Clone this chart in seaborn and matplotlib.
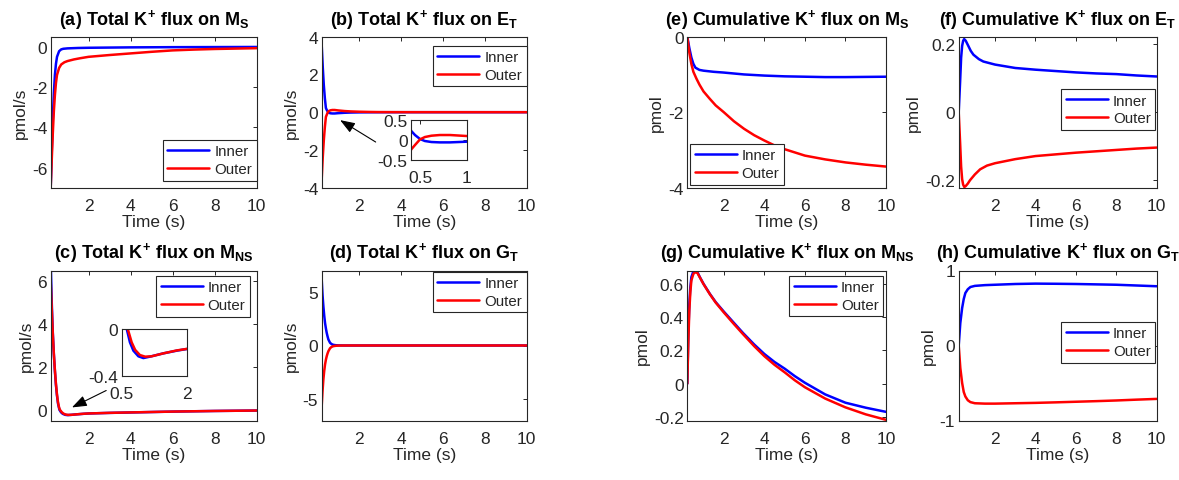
import matplotlib
matplotlib.use("Agg")
import matplotlib.pyplot as plt
import seaborn as sns
import pandas as pd

# ---------------- data ----------------
# (a) total K+ flux on M_S (pmol/s)
a_t_inner = [0.2, 0.25, 0.3, 0.35, 0.4, 0.45, 0.5, 0.6, 0.7, 0.8, 1.0, 1.5, 2, 4, 6, 8, 10]
a_inner = [-7.0, -5.2, -3.6, -2.3, -1.4, -0.85, -0.5, -0.22, -0.13, -0.1, -0.08, -0.06, -0.05, -0.03, -0.02, -0.015, -0.01]
a_t_outer = [0.2, 0.25, 0.3, 0.35, 0.4, 0.45, 0.5, 0.6, 0.7, 0.85, 1.0, 1.3, 1.6, 2, 3, 4, 5, 6, 7, 8, 9, 10]
a_outer = [-7.0, -5.6, -4.3, -3.2, -2.4, -1.8, -1.4, -1.05, -0.88, -0.77, -0.71, -0.63, -0.57, -0.5, -0.41, -0.33, -0.25, -0.18, -0.14, -0.11, -0.09, -0.07]

# (b) total K+ flux on E_T (pmol/s)
b_t = [0.2, 0.25, 0.3, 0.35, 0.4, 0.443, 0.497, 0.55, 0.62, 0.71, 0.82, 1.0, 1.3, 1.6, 2.0, 2.5, 3, 4, 10]
b_inner = [3.55, 2.4, 1.45, 0.75, 0.225, 0.117, 0.017, -0.033, -0.058, -0.067, -0.067, -0.05, -0.03, -0.018, -0.01, -0.005, -0.002, 0, 0]
b_outer = [-3.55, -2.4, -1.5, -0.8, -0.25, -0.133, 0.008, 0.067, 0.1, 0.117, 0.117, 0.092, 0.06, 0.04, 0.025, 0.013, 0.006, 0.002, 0]

# (c) total K+ flux on M_NS (pmol/s)
c_t_inner = [0.2, 0.25, 0.3, 0.35, 0.4, 0.45, 0.5, 0.55, 0.615, 0.69, 0.77, 0.885, 1.0, 1.15, 1.46, 1.77, 2.0, 3, 4, 5, 6, 7, 8, 9, 10]
c_inner = [6.9, 5.0, 3.6, 2.6, 1.8, 1.15, 0.65, 0.28, 0.0, -0.116, -0.187, -0.235, -0.25, -0.238, -0.21, -0.187, -0.173, -0.145, -0.125, -0.105, -0.085, -0.07, -0.055, -0.045, -0.035]
c_t_outer = [0.2, 0.25, 0.3, 0.35, 0.4, 0.45, 0.5, 0.55, 0.6, 0.638, 0.73, 0.81, 0.92, 1.04, 1.19, 1.46, 1.77, 2.0, 3, 4, 5, 6, 7, 8, 9, 10]
c_outer = [6.0, 4.75, 3.55, 2.6, 1.85, 1.2, 0.7, 0.33, 0.1, 0.0, -0.116, -0.18, -0.224, -0.238, -0.235, -0.21, -0.185, -0.172, -0.143, -0.123, -0.103, -0.084, -0.069, -0.055, -0.045, -0.035]

# (d) total K+ flux on G_T (pmol/s)
d_t = [0.2, 0.24, 0.28, 0.32, 0.36, 0.4, 0.44, 0.48, 0.52, 0.6, 0.68, 0.76, 0.88, 1.0, 1.3, 2, 10]
d_inner = [6.15, 4.7, 3.66, 2.8, 2.1, 1.6, 1.18, 0.85, 0.56, 0.25, 0.12, 0.06, 0.025, 0.01, 0.0, 0, 0]
d_outer = [-5.65, -4.25, -3.17, -2.38, -1.77, -1.33, -1.0, -0.74, -0.53, -0.25, -0.12, -0.06, -0.025, -0.01, 0, 0, 0]

# (e) cumulative K+ flux on M_S (pmol)
e_t_inner = [0.2, 0.3, 0.4, 0.5, 0.6, 0.8, 1.0, 1.5, 2, 3, 4, 5, 6, 7, 8, 9, 10]
e_inner = [0.0, -0.3, -0.55, -0.72, -0.82, -0.88, -0.9, -0.93, -0.95, -1.0, -1.03, -1.05, -1.06, -1.07, -1.07, -1.065, -1.06]
e_t_outer = [0.2, 0.3, 0.4, 0.5, 0.65, 0.8, 1.0, 1.3, 1.6, 2, 2.5, 3, 3.5, 4, 4.5, 5, 6, 7, 8, 9, 10]
e_outer = [0.0, -0.42, -0.72, -0.93, -1.11, -1.27, -1.45, -1.64, -1.82, -2.0, -2.24, -2.44, -2.61, -2.75, -2.88, -2.98, -3.15, -3.25, -3.33, -3.39, -3.44]

# (f) cumulative K+ flux on E_T (pmol)
f_t_inner = [0.2, 0.27, 0.32, 0.37, 0.42, 0.47, 0.55, 0.65, 0.8, 0.93, 1.2, 1.42, 2, 3, 4, 5, 6, 7, 8, 9, 10]
f_inner = [0.0, 0.09, 0.16, 0.195, 0.21, 0.215, 0.21, 0.198, 0.18, 0.169, 0.156, 0.149, 0.14, 0.13, 0.125, 0.121, 0.117, 0.114, 0.112, 0.108, 0.105]
f_t_outer = [0.2, 0.27, 0.32, 0.37, 0.42, 0.48, 0.55, 0.65, 0.76, 1.0, 1.26, 1.6, 2, 3, 4, 5, 6, 7, 8, 9, 10]
f_outer = [0.0, -0.09, -0.16, -0.197, -0.213, -0.22, -0.217, -0.21, -0.2, -0.183, -0.168, -0.157, -0.15, -0.138, -0.129, -0.124, -0.119, -0.115, -0.111, -0.107, -0.104]

# (g) cumulative K+ flux on M_NS (pmol)
g_t = [0.2, 0.25, 0.3, 0.35, 0.4, 0.5, 0.6, 0.7, 0.82, 1.0, 1.31, 1.6, 2, 2.5, 2.95, 3.5, 4, 4.5, 5, 5.5, 6, 7, 8, 9, 10]
g_inner = [0.0, 0.3, 0.48, 0.58, 0.64, 0.675, 0.68, 0.67, 0.64, 0.6, 0.54, 0.49, 0.433, 0.365, 0.304, 0.235, 0.178, 0.13, 0.09, 0.045, 0.005, -0.065, -0.115, -0.145, -0.17]
g_outer = [0.0, 0.25, 0.44, 0.55, 0.62, 0.66, 0.67, 0.665, 0.638, 0.598, 0.538, 0.487, 0.428, 0.358, 0.297, 0.225, 0.165, 0.113, 0.068, 0.02, -0.022, -0.09, -0.143, -0.185, -0.218]

# (h) cumulative K+ flux on G_T (pmol)
h_t = [0.2, 0.28, 0.37, 0.45, 0.53, 0.65, 0.78, 1.0, 1.5, 2, 3, 4, 5, 6, 7, 8, 9, 10]
h_inner = [0.0, 0.3, 0.5, 0.62, 0.7, 0.75, 0.78, 0.795, 0.805, 0.81, 0.82, 0.825, 0.823, 0.82, 0.815, 0.81, 0.8, 0.79]
h_outer = [0.0, -0.3, -0.5, -0.62, -0.68, -0.73, -0.755, -0.77, -0.775, -0.775, -0.77, -0.765, -0.758, -0.75, -0.742, -0.733, -0.722, -0.712]

series_labels = ["Inner", "Outer"]
x_ticks = [2, 4, 6, 8, 10]

# ---------------- style ----------------
sns.set_theme(style="white")
plt.rcParams["font.family"] = ["Liberation Sans", "DejaVu Sans"]
plt.rcParams["mathtext.fontset"] = "custom"
plt.rcParams["mathtext.rm"] = "Liberation Sans:bold"
plt.rcParams["mathtext.it"] = "Liberation Sans:bold"
plt.rcParams["mathtext.bf"] = "Liberation Sans:bold"
plt.rcParams["axes.unicode_minus"] = False

INK = "#262626"
BLUE = "#0000FF"
RED = "#FF0000"
W, H = 1179, 481
FS = 12.5

fig = plt.figure(figsize=(W / 100, H / 100), dpi=100)
fig.patch.set_facecolor("white")


def rect(left, top, right, bottom):
    return [left / W, 1 - bottom / H, (right - left) / W, (bottom - top) / H]


def style_axes(ax, fs=FS, xpad=7.5):
    for s in ax.spines.values():
        s.set_color(INK)
        s.set_linewidth(0.8)
        s.set_visible(True)
    ax.tick_params(direction="in", top=True, right=True, length=3, width=0.7,
                   color=INK, labelcolor=INK, labelsize=fs)
    ax.tick_params(axis="x", pad=xpad)
    ax.tick_params(axis="y", pad=2.5)
    ax.set_facecolor("white")


def draw_pair(ax, t1, y1, t2, y2, lw=1.8):
    sns.lineplot(x=t1, y=y1, ax=ax, color=BLUE, linewidth=lw, errorbar=None)
    sns.lineplot(x=t2, y=y2, ax=ax, color=RED, linewidth=lw, errorbar=None)


def panel(box, title, ylabel, t1, y1, t2, y2, ylim, yticks, leg_anchor, leg_loc):
    ax = fig.add_axes(rect(*box))
    draw_pair(ax, t1, y1, t2, y2)
    style_axes(ax)
    ax.set_xlim(0.2, 10)
    ax.set_ylim(*ylim)
    ax.set_xticks(x_ticks)
    ax.set_yticks(yticks)
    ax.set_yticklabels([f"{v:g}" for v in yticks])
    ax.set_xlabel("Time (s)", fontsize=FS, color=INK, labelpad=0.5)
    ax.set_ylabel(ylabel, fontsize=FS, color=INK, labelpad=3)
    ax.set_title(title, fontsize=13, fontweight="bold", color="black", pad=9.5)
    leg = ax.legend(ax.lines[:2], series_labels, loc=leg_loc,
                    bbox_to_anchor=(leg_anchor[0] / W, 1 - leg_anchor[1] / H),
                    bbox_transform=fig.transFigure, borderaxespad=0,
                    fontsize=10.8, frameon=True, fancybox=False, framealpha=1,
                    edgecolor=INK, handlelength=2.8, handletextpad=0.35,
                    borderpad=0.3, labelspacing=0.25)
    leg.get_frame().set_linewidth(0.8)
    for txt in leg.get_texts():
        txt.set_color(INK)
    return ax


def inset(box, t1, y1, t2, y2, xlim, ylim, xticks, yticks):
    ax = fig.add_axes(rect(*box))
    draw_pair(ax, t1, y1, t2, y2, lw=1.8)
    style_axes(ax, fs=FS, xpad=7.5)
    ax.set_xlim(*xlim)
    ax.set_ylim(*ylim)
    ax.set_xticks(xticks)
    ax.set_yticks(yticks)
    ax.set_xticklabels([f"{v:g}" for v in xticks])
    ax.set_yticklabels([f"{v:g}" for v in yticks])
    ax.set_xlabel("")
    ax.set_ylabel("")
    return ax


arrow_style = dict(arrowstyle="-|>,head_length=0.6,head_width=0.22", color="black",
                   lw=0.8, mutation_scale=15, shrinkA=0, shrinkB=0)

# columns / rows in pixels
C1, C2, C3, C4 = (50.7, 256.7), (321.7, 526.7), (687.3, 886.0), (958.7, 1156.7)
R1, R2 = (37.7, 188.7), (271.5, 421.5)

ax_a = panel((C1[0], R1[0], C1[1], R1[1]), r"(a) Total K$^{+}$ flux on M$_{S}$", "pmol/s",
             a_t_inner, a_inner, a_t_outer, a_outer, (-7, 0.5), [-6, -4, -2, 0],
             (256.5, 181.7), "lower right")

ax_b = panel((C2[0], R1[0], C2[1], R1[1]), r"(b) Total K$^{+}$ flux on E$_{T}$", "pmol/s",
             b_t, b_inner, b_t, b_outer, (-4, 4), [-4, -2, 0, 2, 4],
             (526.5, 46.7), "upper right")
ax_b.annotate("", xy=(1.08, -0.42), xytext=(2.78, -1.58), arrowprops=arrow_style)
inset((411, 120.7, 466.7, 160.7), b_t, b_inner, b_t, b_outer,
      (0.4, 1), (-0.5, 0.5), [0.5, 1], [-0.5, 0, 0.5])

ax_c = panel((C1[0], R2[0], C1[1], R2[1]), r"(c) Total K$^{+}$ flux on M$_{NS}$", "pmol/s",
             c_t_inner, c_inner, c_t_outer, c_outer, (-0.5, 6.5), [0, 2, 4, 6],
             (250, 277), "upper right")
ax_c.annotate("", xy=(1.21, 0.11), xytext=(2.84, 0.9), arrowprops=arrow_style)
inset((121.7, 329.7, 186.7, 376.7), c_t_inner, c_inner, c_t_outer, c_outer,
      (0.5, 2), (-0.4, 0), [0.5, 2], [-0.4, 0])

panel((C2[0], R2[0], C2[1], R2[1]), r"(d) Total K$^{+}$ flux on G$_{T}$", "pmol/s",
      d_t, d_inner, d_t, d_outer, (-7, 7), [-5, 0, 5],
      (526.5, 272.7), "upper right")

panel((C3[0], R1[0], C3[1], R1[1]), r"(e) Cumulative K$^{+}$ flux on M$_{S}$", "pmol",
      e_t_inner, e_inner, e_t_outer, e_outer, (-4, 0), [-4, -2, 0],
      (690, 185.7), "lower left")

panel((C4[0], R1[0], C4[1], R1[1]), r"(f) Cumulative K$^{+}$ flux on E$_{T}$", "pmol",
      f_t_inner, f_inner, f_t_outer, f_outer, (-0.222, 0.222), [-0.2, 0, 0.2],
      (1155, 90), "upper right")

panel((C3[0], R2[0], C3[1], R2[1]), r"(g) Cumulative K$^{+}$ flux on M$_{NS}$", "pmol",
      g_t, g_inner, g_t, g_outer, (-0.222, 0.68), [-0.2, 0, 0.2, 0.4, 0.6],
      (883.3, 276.7), "upper right")

panel((C4[0], R2[0], C4[1], R2[1]), r"(h) Cumulative K$^{+}$ flux on G$_{T}$", "pmol",
      h_t, h_inner, h_t, h_outer, (-1, 1), [-1, 0, 1],
      (1155, 323), "upper right")

fig.savefig("out.png", dpi=100, facecolor="white")
